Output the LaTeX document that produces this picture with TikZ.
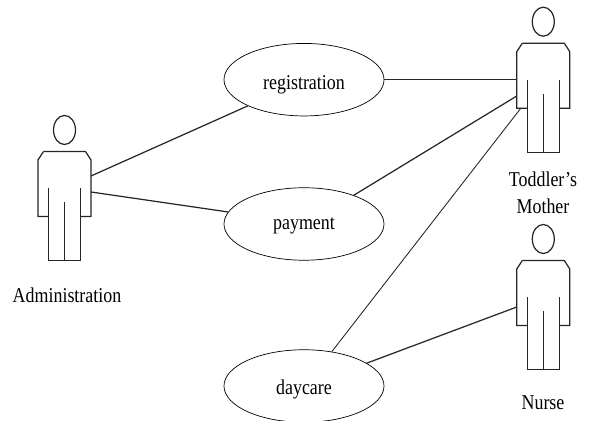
\documentclass[tikz,border=0pt]{standalone}
\usepackage{fontspec}
\setmainfont[FakeStretch=0.85]{Liberation Serif}
\usetikzlibrary{shapes.geometric}

\tikzset{
  usecase/.style={draw,ellipse,minimum width=160*0.02cm,minimum height=72.5*0.02cm,inner sep=0pt,text depth=0pt},
  caption/.style={align=center,font=\fontsize{12}{15.5}\selectfont},
  link/.style={line width=0.7pt,black!85},
  pics/actor/.style={code={
    \draw[link] (0,0) ellipse (11 and 14.5);
    \draw[link] (-21,21.5) -- (21,21.5) -- (26.5,30) -- (26.5,86.5) -- (16,86.5);
    \draw[link] (-21,21.5) -- (-26.5,30) -- (-26.5,86.5) -- (-16,86.5);
    \draw[link] (-16,58) -- (-16,130.5) -- (16,130.5) -- (16,58);
    \draw[link] (0,72.5) -- (0,130.5);
  }}
}

\begin{document}
\begin{tikzpicture}[x=0.02cm,y=-0.02cm]
\useasboundingbox (0,0) rectangle (589,421);

\node[usecase,caption,text height=10.9pt] (registration) at (304,79.7) {registration};
\node[usecase,caption,text height=6.8pt] (payment) at (304,224) {payment};
\node[usecase,caption,text height=10pt] (daycare) at (304,386) {daycare};

\pic at (64.5,130) {actor};
\pic at (543.3,21.7) {actor};
\pic at (543.3,239) {actor};

\node[caption] (administration) at (67,295) {Administration};
\node[caption] (mother) at (543,193) {Toddler’s\\Mother};
\node[caption] (nurse) at (543,403) {Nurse};

\coordinate (adminA) at (91,176);
\coordinate (adminB) at (91,192);
\coordinate (motherA) at (516.8,79.7);
\coordinate (motherB) at (516.8,96);
\coordinate (motherC) at (521,108);
\coordinate (nurseA) at (516.8,307);

\draw[link] (adminA) -- (registration.205);
\draw[link] (adminB) -- (payment.171.5);
\draw[link] (registration.east) -- (motherA);
\draw[link] (payment.30.6) -- (motherB);
\draw[link,line width=0.5pt] (daycare.51.5) -- (motherC);
\draw[link] (daycare.20) -- (nurseA);
\end{tikzpicture}
\end{document}
